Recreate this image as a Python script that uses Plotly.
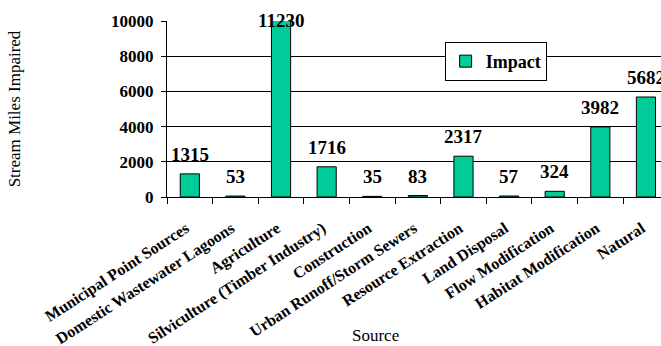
import plotly.graph_objects as go

# Stream miles impaired, by source of impairment
sources = [
    "Municipal Point Sources",
    "Domestic Wastewater Lagoons",
    "Agriculture",
    "Silviculture (Timber Industry)",
    "Construction",
    "Urban Runoff/Storm Sewers",
    "Resource Extraction",
    "Land Disposal",
    "Flow Modification",
    "Habitat Modification",
    "Natural",
]
impact = [1315, 53, 11230, 1716, 35, 83, 2317, 57, 324, 3982, 5682]
y_ticks = [0, 2000, 4000, 6000, 8000, 10000]

SERIF = "Liberation Serif, Times New Roman, serif"
Y_MAX = 10000
BAR_COLOR = "#00CC99"

fig = go.Figure()
fig.add_trace(go.Bar(
    x=sources,
    y=impact,
    name="Impact",
    marker=dict(color=BAR_COLOR, line=dict(color="black", width=1)),
))

# value labels above each bar; a bar running past the axis top gets its
# label on the top edge of the plot area
for src, val in zip(sources, impact):
    over = val > Y_MAX
    fig.add_annotation(
        x=src, y=min(val, Y_MAX), text=str(val),
        showarrow=False, xref="x", yref="y",
        yanchor="middle" if over else "bottom",
        yshift=1 if over else 7,
        font=dict(family=SERIF, size=19, color="black", weight="bold"),
    )

# x-axis title, set just under the slanted category names
fig.add_annotation(
    x=0.423, y=-0.785, xref="paper", yref="paper",
    xanchor="center", yanchor="middle",
    text="Source", showarrow=False,
    font=dict(family=SERIF, size=17, color="black"),
)

fig.update_layout(
    width=661, height=346,
    margin=dict(l=167, r=0, t=21, b=149),
    paper_bgcolor="white", plot_bgcolor="white",
    bargap=0.58,
    font=dict(family=SERIF, color="black"),
    showlegend=True,
    legend=dict(
        x=0.562, y=0.881, xanchor="left", yanchor="top",
        bgcolor="white", bordercolor="black", borderwidth=1,
        font=dict(family=SERIF, size=18, color="black", weight="bold"),
        itemwidth=30,
    ),
    xaxis=dict(
        type="category",
        range=[-0.5, 10.33],
        automargin=False,
        tickson="boundaries",
        ticks="outside", ticklen=6, tickcolor="black",
        showline=True, linecolor="black", linewidth=1,
        showgrid=False,
        tickangle=-33,
        ticklabelstandoff=15,
        ticklabelshift=-4,
        tickfont=dict(family=SERIF, size=16, color="black", weight="bold"),
    ),
    yaxis=dict(
        range=[0, Y_MAX],
        automargin=False,
        tickvals=y_ticks,
        tickformat="d",
        ticks="outside", ticklen=5, tickcolor="black",
        showline=True, linecolor="black", linewidth=1,
        showgrid=True, gridcolor="black", gridwidth=1,
        zeroline=False,
        ticklabelstandoff=4,
        tickfont=dict(family=SERIF, size=17, color="black", weight="bold"),
        title=dict(text="Stream Miles Impaired", font=dict(family=SERIF, size=17, color="black"), standoff=86),
    ),
)

fig.write_html("out.html")
